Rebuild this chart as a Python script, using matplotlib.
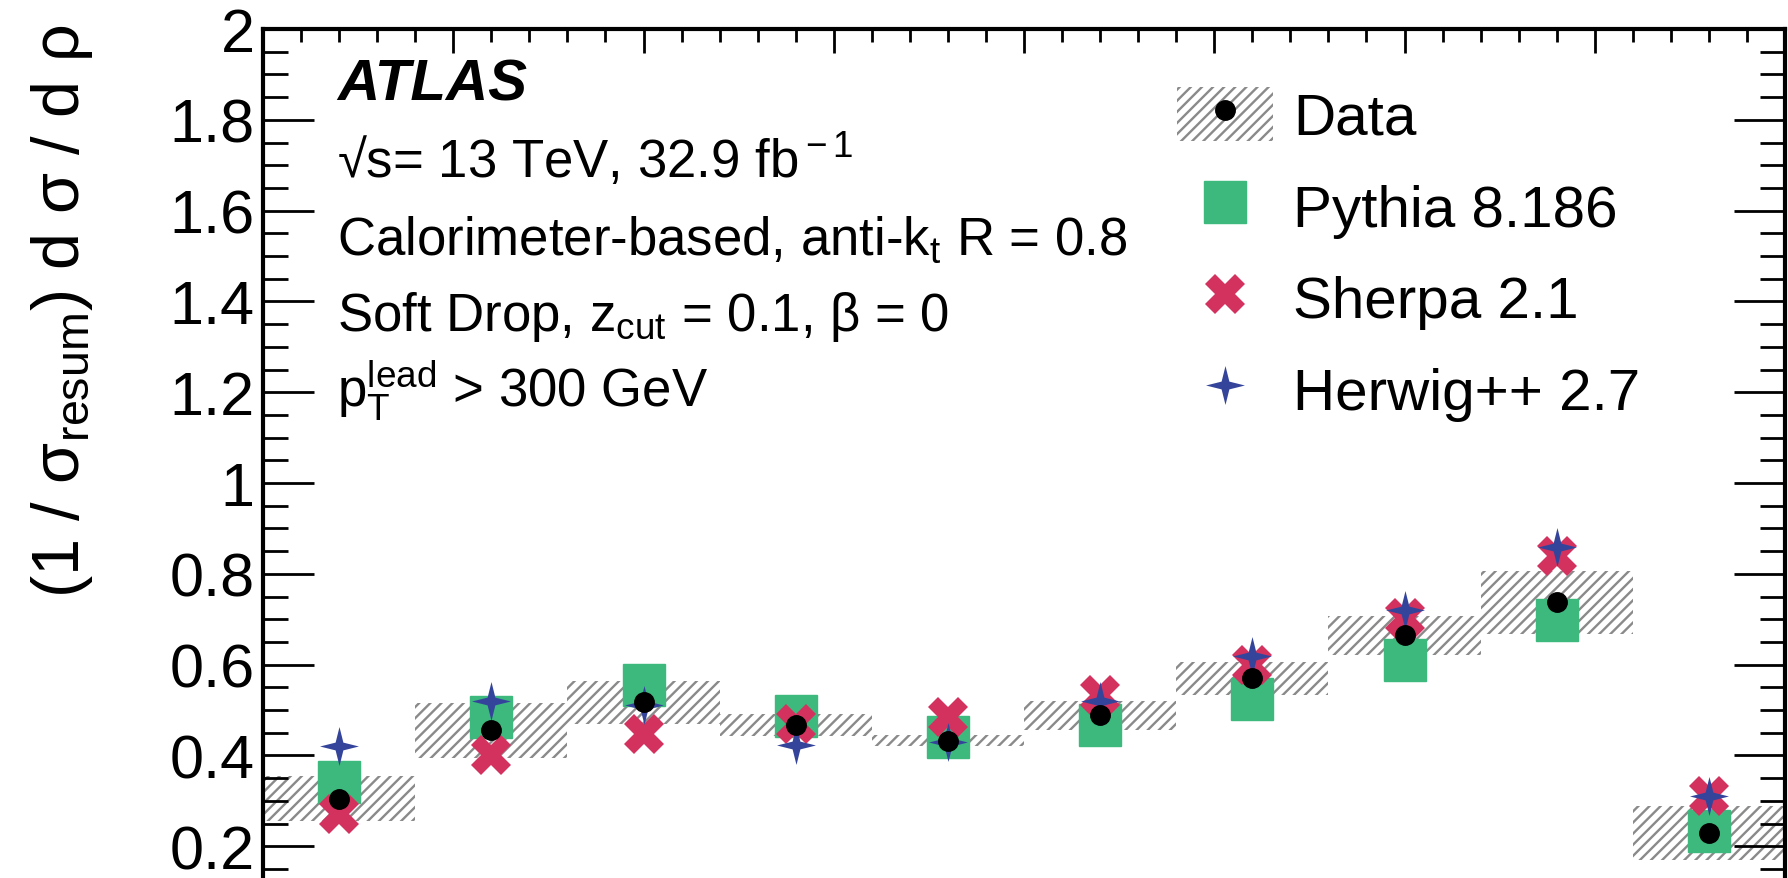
import numpy as np
import matplotlib
matplotlib.use("Agg")
import matplotlib.pyplot as plt
from matplotlib.patches import Patch
from matplotlib.lines import Line2D
from matplotlib.legend_handler import HandlerTuple
from matplotlib.ticker import MultipleLocator

plt.rcParams['font.family'] = ['Liberation Sans', 'DejaVu Sans']
plt.rcParams['mathtext.fontset'] = 'custom'
plt.rcParams['mathtext.rm'] = 'Liberation Sans'
plt.rcParams['mathtext.it'] = 'Liberation Sans:italic'
plt.rcParams['mathtext.bf'] = 'Liberation Sans:bold'
plt.rcParams['hatch.linewidth'] = 1.7

# log10(rho^2) bins
bin_edges = np.arange(-4.5, -0.45, 0.4)
data = [0.305, 0.455, 0.517, 0.467, 0.432, 0.488, 0.570, 0.665, 0.737, 0.229]
data_err = [0.05, 0.06, 0.048, 0.024, 0.012, 0.031, 0.036, 0.043, 0.07, 0.06]
pythia = [0.342, 0.485, 0.556, 0.487, 0.44, 0.468, 0.524, 0.61, 0.698, 0.233]
sherpa = [0.27, 0.40, 0.448, 0.47, 0.485, 0.532, 0.60, 0.703, 0.84, 0.31]
herwig = [0.42, 0.52, 0.51, 0.422, 0.43, 0.52, 0.618, 0.72, 0.858, 0.31]

labels = ["Data", "Pythia 8.186", "Sherpa 2.1", "Herwig++ 2.7"]
green = '#3db97e'
red = '#d3325f'
blue = '#34449a'
band_col = '#8a8a8a'

# 4 pointed star marker
star4 = [(0, 1), (0.2, 0.2), (1, 0), (0.2, -0.2), (0, -1),
         (-0.2, -0.2), (-1, 0), (-0.2, 0.2), (0, 1)]

centers = 0.5 * (bin_edges[:-1] + bin_edges[1:])
data = np.array(data)
data_err = np.array(data_err)

fig = plt.figure(figsize=(17.88, 8.79), dpi=100)
ax = fig.add_axes([263 / 1788, 0.0, (1785 - 263) / 1788, 1 - 30 / 879])

ax.bar(centers, 2 * data_err, bottom=data - data_err, width=0.4,
       facecolor='white', edgecolor=band_col, linewidth=0, hatch='///', zorder=1)
ax.plot(centers, pythia, 's', color=green, markersize=30, zorder=2)
ax.plot(centers, sherpa, 'X', color=red, markersize=29, markeredgewidth=0, zorder=3)
ax.plot(centers, herwig, marker=star4, ls='none', color=blue, markersize=28,
        markeredgewidth=0, zorder=4)
ax.plot(centers, data, 'o', color='black', markersize=14, zorder=5)

ax.set_xlim(-4.5, -0.5)
ax.set_ylim(0.13, 2.0)

ax.spines['bottom'].set_visible(False)
for s in ['left', 'top', 'right']:
    ax.spines[s].set_linewidth(3)

ax.xaxis.set_major_locator(MultipleLocator(0.5))
ax.xaxis.set_minor_locator(MultipleLocator(0.1))
ax.yaxis.set_major_locator(MultipleLocator(0.2))
ax.yaxis.set_minor_locator(MultipleLocator(0.05))
ax.tick_params(axis='x', which='both', direction='in', top=True, bottom=False,
               labelbottom=False, width=2)
ax.tick_params(axis='x', which='major', length=17)
ax.tick_params(axis='x', which='minor', length=9)
ax.tick_params(axis='y', which='both', direction='in', left=True, right=True, width=2)
ax.tick_params(axis='y', which='major', length=37, labelsize=44, pad=6)
ax.tick_params(axis='y', which='minor', length=18)
ax.set_yticks([0.2, 0.4, 0.6, 0.8, 1.0, 1.2, 1.4, 1.6, 1.8, 2.0])
ax.set_yticklabels(['0.2', '0.4', '0.6', '0.8', '1', '1.2', '1.4', '1.6', '1.8', '2'])

fig.text(62 / 1788, 1 - 25 / 879, r"(1 / σ$_{\rm resum}$) d σ / d ρ", rotation=90,
         ha='center', va='top', fontsize=48)

ax.text(-4.306, 1.844, "ATLAS", fontsize=42, fontweight='bold', fontstyle='italic',
        va='baseline')
info = [r"√s= 13 TeV, 32.9 fb$^{\rm -1}$",
        r"Calorimeter-based, anti-k$_{\rm t}$ R = 0.8",
        r"Soft Drop, z$_{\rm cut}$ = 0.1, β = 0",
        r"p$_{\rm T}^{\rm lead}$ > 300 GeV"]
for i, t in enumerate(info):
    ax.text(-4.306, 1.674 - 0.168 * i, t, fontsize=38, va='baseline')

h_data = (Patch(facecolor='white', edgecolor=band_col, linewidth=0, hatch='///'),
          Line2D([], [], marker='o', ls='none', color='black', markersize=14))
h_py = Line2D([], [], marker='s', ls='none', color=green, markersize=30)
h_sh = Line2D([], [], marker='X', ls='none', color=red, markersize=29, markeredgewidth=0)
h_hw = Line2D([], [], marker=star4, ls='none', color=blue, markersize=28, markeredgewidth=0)
leg = ax.legend([h_data, h_py, h_sh, h_hw], labels,
                handler_map={tuple: HandlerTuple(ndivide=1, pad=0)},
                loc='upper left', bbox_to_anchor=(1177 / 1788, 1 - 88 / 879),
                bbox_transform=fig.transFigure, frameon=False, fontsize=42,
                handlelength=1.65, handleheight=1.05, handletextpad=0.34,
                labelspacing=0.56, borderpad=0, borderaxespad=0)

fig.savefig("out.png", dpi=100)
